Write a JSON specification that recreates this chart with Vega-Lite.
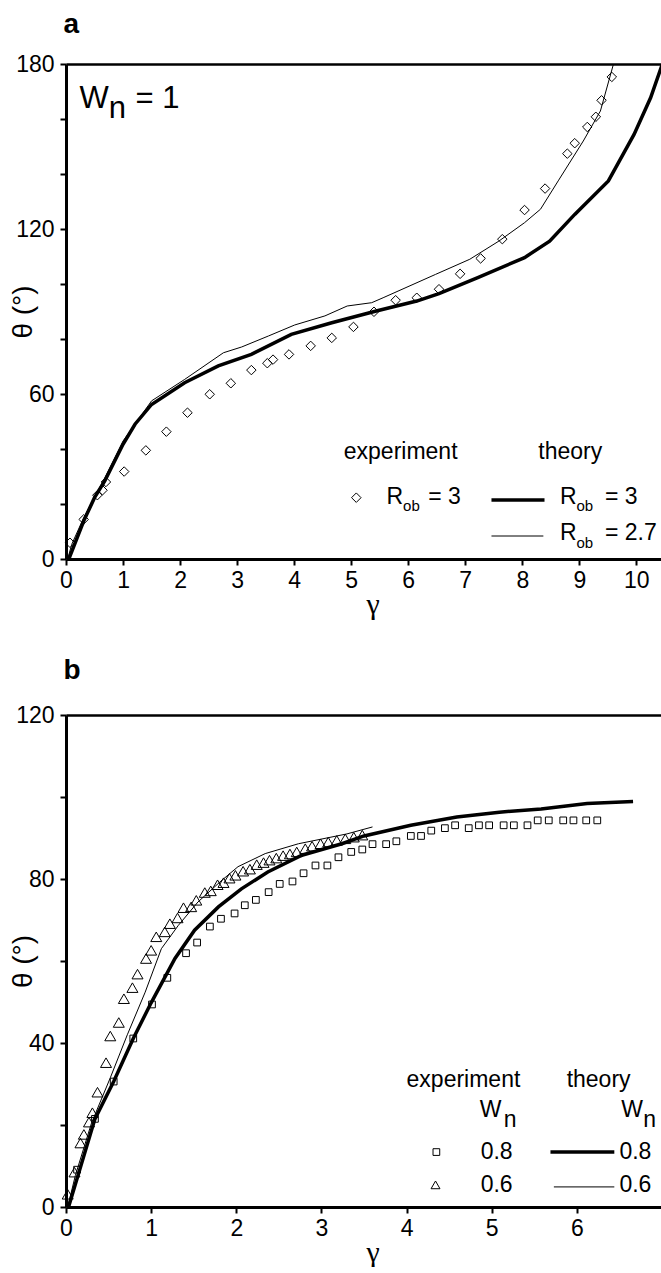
{
  "$schema": "https://vega.github.io/schema/vega-lite/v6.json",
  "padding": {"left": 9, "top": 10, "right": 0, "bottom": 0},
  "background": "white",
  "spacing": 37,
  "config": {
    "view": {"stroke": null},
    "font": "Liberation Sans",
    "text": {"font": "Liberation Sans", "color": "black"},
    "axis": {"domainColor": "black", "tickColor": "black", "labelColor": "black", "titleColor": "black", "grid": false, "labelFont": "Liberation Sans", "labelFontSize": 23, "domainWidth": 3, "tickWidth": 2, "tickSize": 6}
  },
  "datasets": {
    "a_exp": [
      {"gamma": 0.07, "theta": 5.9}, {"gamma": 0.31, "theta": 14.4}, {"gamma": 0.55, "theta": 23.2}, {"gamma": 0.64, "theta": 25.0},
      {"gamma": 0.70, "theta": 28.0}, {"gamma": 1.02, "theta": 31.8}, {"gamma": 1.40, "theta": 39.5}, {"gamma": 1.76, "theta": 46.3},
      {"gamma": 2.13, "theta": 53.2}, {"gamma": 2.52, "theta": 59.9}, {"gamma": 2.89, "theta": 63.9}, {"gamma": 3.25, "theta": 68.7},
      {"gamma": 3.53, "theta": 71.2}, {"gamma": 3.63, "theta": 72.5}, {"gamma": 3.91, "theta": 74.4}, {"gamma": 4.29, "theta": 77.5},
      {"gamma": 4.66, "theta": 80.4}, {"gamma": 5.04, "theta": 84.4}, {"gamma": 5.40, "theta": 89.9}, {"gamma": 5.78, "theta": 94.1},
      {"gamma": 6.15, "theta": 95.0}, {"gamma": 6.54, "theta": 98.1}, {"gamma": 6.91, "theta": 103.7}, {"gamma": 7.27, "theta": 109.3},
      {"gamma": 7.65, "theta": 116.3}, {"gamma": 8.04, "theta": 126.9}, {"gamma": 8.40, "theta": 134.7}, {"gamma": 8.79, "theta": 147.4},
      {"gamma": 8.92, "theta": 151.2}, {"gamma": 9.14, "theta": 157.1}, {"gamma": 9.29, "theta": 160.8}, {"gamma": 9.39, "theta": 166.8},
      {"gamma": 9.57, "theta": 175.3}
    ],
    "a_theory": [
      {"R": "3", "gamma": 0.05, "theta": 0}, {"R": "3", "gamma": 0.31, "theta": 13.8}, {"R": "3", "gamma": 0.50, "theta": 22.3},
      {"R": "3", "gamma": 0.68, "theta": 28.4}, {"R": "3", "gamma": 1.00, "theta": 41.7}, {"R": "3", "gamma": 1.21, "theta": 49.0},
      {"R": "3", "gamma": 1.50, "theta": 56.2}, {"R": "3", "gamma": 2.08, "theta": 64.1}, {"R": "3", "gamma": 2.67, "theta": 70.2},
      {"R": "3", "gamma": 3.25, "theta": 74.4}, {"R": "3", "gamma": 3.95, "theta": 81.7}, {"R": "3", "gamma": 4.66, "theta": 85.9},
      {"R": "3", "gamma": 5.44, "theta": 90.2}, {"R": "3", "gamma": 6.15, "theta": 93.8}, {"R": "3", "gamma": 6.54, "theta": 96.5},
      {"R": "3", "gamma": 7.22, "theta": 102.3}, {"R": "3", "gamma": 8.04, "theta": 109.6}, {"R": "3", "gamma": 8.48, "theta": 115.6},
      {"R": "3", "gamma": 8.92, "theta": 125.3}, {"R": "3", "gamma": 9.51, "theta": 137.5}, {"R": "3", "gamma": 9.96, "theta": 154.4},
      {"R": "3", "gamma": 10.25, "theta": 167.7}, {"R": "3", "gamma": 10.46, "theta": 180.2},
      {"R": "2.7", "gamma": 0.03, "theta": 0}, {"R": "2.7", "gamma": 0.10, "theta": 5.3}, {"R": "2.7", "gamma": 0.31, "theta": 15.0},
      {"R": "2.7", "gamma": 0.68, "theta": 29.5}, {"R": "2.7", "gamma": 1.00, "theta": 42.9}, {"R": "2.7", "gamma": 1.50, "theta": 57.5},
      {"R": "2.7", "gamma": 2.08, "theta": 65.3}, {"R": "2.7", "gamma": 2.76, "theta": 75.0}, {"R": "2.7", "gamma": 3.08, "theta": 77.1},
      {"R": "2.7", "gamma": 3.55, "theta": 81.1}, {"R": "2.7", "gamma": 4.01, "theta": 85.1}, {"R": "2.7", "gamma": 4.54, "theta": 88.4},
      {"R": "2.7", "gamma": 4.93, "theta": 92.0}, {"R": "2.7", "gamma": 5.36, "theta": 93.2}, {"R": "2.7", "gamma": 5.56, "theta": 95.0},
      {"R": "2.7", "gamma": 6.48, "theta": 103.5}, {"R": "2.7", "gamma": 7.08, "theta": 109.0}, {"R": "2.7", "gamma": 7.59, "theta": 115.6},
      {"R": "2.7", "gamma": 8.04, "theta": 122.3}, {"R": "2.7", "gamma": 8.32, "theta": 127.2}, {"R": "2.7", "gamma": 8.63, "theta": 137.5},
      {"R": "2.7", "gamma": 9.07, "theta": 152.0}, {"R": "2.7", "gamma": 9.37, "theta": 162.9}, {"R": "2.7", "gamma": 9.59, "theta": 179.3},
      {"R": "2.7", "gamma": 9.60, "theta": 180}
    ],
    "b_exp": [
      {"Wn": "0.8", "gamma": 0.13, "theta": 9.1}, {"Wn": "0.8", "gamma": 0.34, "theta": 21.5}, {"Wn": "0.8", "gamma": 0.56, "theta": 30.6},
      {"Wn": "0.8", "gamma": 0.79, "theta": 41.1}, {"Wn": "0.8", "gamma": 1.01, "theta": 49.4}, {"Wn": "0.8", "gamma": 1.19, "theta": 55.9},
      {"Wn": "0.8", "gamma": 1.41, "theta": 61.9}, {"Wn": "0.8", "gamma": 1.54, "theta": 64.5}, {"Wn": "0.8", "gamma": 1.69, "theta": 68.4},
      {"Wn": "0.8", "gamma": 1.82, "theta": 70.3}, {"Wn": "0.8", "gamma": 1.98, "theta": 71.6}, {"Wn": "0.8", "gamma": 2.10, "theta": 73.6},
      {"Wn": "0.8", "gamma": 2.23, "theta": 74.9}, {"Wn": "0.8", "gamma": 2.38, "theta": 76.8}, {"Wn": "0.8", "gamma": 2.51, "theta": 78.8},
      {"Wn": "0.8", "gamma": 2.66, "theta": 79.4}, {"Wn": "0.8", "gamma": 2.79, "theta": 81.4}, {"Wn": "0.8", "gamma": 2.93, "theta": 83.3},
      {"Wn": "0.8", "gamma": 3.07, "theta": 83.3}, {"Wn": "0.8", "gamma": 3.20, "theta": 85.3}, {"Wn": "0.8", "gamma": 3.35, "theta": 86.6},
      {"Wn": "0.8", "gamma": 3.48, "theta": 87.2}, {"Wn": "0.8", "gamma": 3.60, "theta": 88.5}, {"Wn": "0.8", "gamma": 3.76, "theta": 88.5},
      {"Wn": "0.8", "gamma": 3.88, "theta": 89.2}, {"Wn": "0.8", "gamma": 4.05, "theta": 90.5}, {"Wn": "0.8", "gamma": 4.17, "theta": 90.5},
      {"Wn": "0.8", "gamma": 4.29, "theta": 91.8}, {"Wn": "0.8", "gamma": 4.45, "theta": 92.4}, {"Wn": "0.8", "gamma": 4.57, "theta": 93.1},
      {"Wn": "0.8", "gamma": 4.73, "theta": 92.4}, {"Wn": "0.8", "gamma": 4.85, "theta": 93.1}, {"Wn": "0.8", "gamma": 4.97, "theta": 93.1},
      {"Wn": "0.8", "gamma": 5.14, "theta": 93.1}, {"Wn": "0.8", "gamma": 5.26, "theta": 93.1}, {"Wn": "0.8", "gamma": 5.42, "theta": 93.1},
      {"Wn": "0.8", "gamma": 5.54, "theta": 94.3}, {"Wn": "0.8", "gamma": 5.67, "theta": 94.3}, {"Wn": "0.8", "gamma": 5.84, "theta": 94.3},
      {"Wn": "0.8", "gamma": 5.96, "theta": 94.3}, {"Wn": "0.8", "gamma": 6.11, "theta": 94.3}, {"Wn": "0.8", "gamma": 6.24, "theta": 94.3},
      {"Wn": "0.6", "gamma": 0.02, "theta": 3.1}, {"Wn": "0.6", "gamma": 0.10, "theta": 8.5}, {"Wn": "0.6", "gamma": 0.17, "theta": 15.6},
      {"Wn": "0.6", "gamma": 0.21, "theta": 17.7}, {"Wn": "0.6", "gamma": 0.27, "theta": 20.7}, {"Wn": "0.6", "gamma": 0.31, "theta": 23.0},
      {"Wn": "0.6", "gamma": 0.37, "theta": 28.0}, {"Wn": "0.6", "gamma": 0.47, "theta": 35.2}, {"Wn": "0.6", "gamma": 0.52, "theta": 41.7},
      {"Wn": "0.6", "gamma": 0.62, "theta": 45.0}, {"Wn": "0.6", "gamma": 0.68, "theta": 50.8}, {"Wn": "0.6", "gamma": 0.78, "theta": 53.5},
      {"Wn": "0.6", "gamma": 0.84, "theta": 56.8}, {"Wn": "0.6", "gamma": 0.94, "theta": 60.6}, {"Wn": "0.6", "gamma": 1.00, "theta": 62.6},
      {"Wn": "0.6", "gamma": 1.06, "theta": 65.9}, {"Wn": "0.6", "gamma": 1.16, "theta": 67.1}, {"Wn": "0.6", "gamma": 1.22, "theta": 69.1},
      {"Wn": "0.6", "gamma": 1.31, "theta": 70.5}, {"Wn": "0.6", "gamma": 1.38, "theta": 73.0}, {"Wn": "0.6", "gamma": 1.47, "theta": 73.2},
      {"Wn": "0.6", "gamma": 1.53, "theta": 74.8}, {"Wn": "0.6", "gamma": 1.63, "theta": 76.7}, {"Wn": "0.6", "gamma": 1.70, "theta": 77.1},
      {"Wn": "0.6", "gamma": 1.78, "theta": 78.6}, {"Wn": "0.6", "gamma": 1.85, "theta": 79.1}, {"Wn": "0.6", "gamma": 1.92, "theta": 80.2},
      {"Wn": "0.6", "gamma": 1.99, "theta": 80.9}, {"Wn": "0.6", "gamma": 2.08, "theta": 81.9}, {"Wn": "0.6", "gamma": 2.16, "theta": 82.4},
      {"Wn": "0.6", "gamma": 2.24, "theta": 83.5}, {"Wn": "0.6", "gamma": 2.32, "theta": 84.0}, {"Wn": "0.6", "gamma": 2.39, "theta": 84.6},
      {"Wn": "0.6", "gamma": 2.47, "theta": 85.1}, {"Wn": "0.6", "gamma": 2.55, "theta": 85.7}, {"Wn": "0.6", "gamma": 2.63, "theta": 86.1},
      {"Wn": "0.6", "gamma": 2.71, "theta": 86.6}, {"Wn": "0.6", "gamma": 2.81, "theta": 87.4}, {"Wn": "0.6", "gamma": 2.89, "theta": 88.0},
      {"Wn": "0.6", "gamma": 2.99, "theta": 88.6}, {"Wn": "0.6", "gamma": 3.08, "theta": 89.0}, {"Wn": "0.6", "gamma": 3.18, "theta": 89.4},
      {"Wn": "0.6", "gamma": 3.28, "theta": 89.8}, {"Wn": "0.6", "gamma": 3.38, "theta": 90.2}, {"Wn": "0.6", "gamma": 3.48, "theta": 90.7}
    ],
    "b_theory": [
      {"Wn": "0.8", "gamma": 0.03, "theta": 0}, {"Wn": "0.8", "gamma": 0.34, "theta": 21.5}, {"Wn": "0.8", "gamma": 0.56, "theta": 30.6},
      {"Wn": "0.8", "gamma": 0.79, "theta": 41.1}, {"Wn": "0.8", "gamma": 1.00, "theta": 49.8}, {"Wn": "0.8", "gamma": 1.28, "theta": 60.6},
      {"Wn": "0.8", "gamma": 1.51, "theta": 67.5}, {"Wn": "0.8", "gamma": 1.79, "theta": 73.2}, {"Wn": "0.8", "gamma": 2.06, "theta": 77.6},
      {"Wn": "0.8", "gamma": 2.37, "theta": 81.7}, {"Wn": "0.8", "gamma": 2.77, "theta": 85.8}, {"Wn": "0.8", "gamma": 3.24, "theta": 88.6},
      {"Wn": "0.8", "gamma": 3.50, "theta": 90.5}, {"Wn": "0.8", "gamma": 4.05, "theta": 93.1}, {"Wn": "0.8", "gamma": 4.59, "theta": 95.1},
      {"Wn": "0.8", "gamma": 5.09, "theta": 96.3}, {"Wn": "0.8", "gamma": 5.58, "theta": 97.1}, {"Wn": "0.8", "gamma": 6.12, "theta": 98.4},
      {"Wn": "0.8", "gamma": 6.66, "theta": 98.9},
      {"Wn": "0.6", "gamma": 0.02, "theta": 0}, {"Wn": "0.6", "gamma": 0.11, "theta": 7.7}, {"Wn": "0.6", "gamma": 0.30, "theta": 20.5},
      {"Wn": "0.6", "gamma": 0.52, "theta": 31.5}, {"Wn": "0.6", "gamma": 0.72, "theta": 42.0}, {"Wn": "0.6", "gamma": 0.93, "theta": 52.4},
      {"Wn": "0.6", "gamma": 1.12, "theta": 63.0}, {"Wn": "0.6", "gamma": 1.32, "theta": 68.7}, {"Wn": "0.6", "gamma": 1.55, "theta": 74.4},
      {"Wn": "0.6", "gamma": 1.82, "theta": 79.5}, {"Wn": "0.6", "gamma": 2.02, "theta": 83.0}, {"Wn": "0.6", "gamma": 2.34, "theta": 86.2},
      {"Wn": "0.6", "gamma": 2.73, "theta": 88.6}, {"Wn": "0.6", "gamma": 3.30, "theta": 91.0}, {"Wn": "0.6", "gamma": 3.60, "theta": 92.7}
    ]
  },
  "vconcat": [
    {
      "width": 596,
      "height": 495,
      "layer": [
        {
          "data": {"name": "a_theory"},
          "transform": [{"filter": "datum.R === '3'"}],
          "mark": {"type": "line", "color": "black", "strokeWidth": 3.5, "clip": true},
          "encoding": {
            "x": {"field": "gamma", "type": "quantitative", "scale": {"domain": [0, 10.45], "nice": false, "zero": false},
              "axis": {"orient": "bottom", "values": [0, 1, 2, 3, 4, 5, 6, 7, 8, 9, 10], "title": "γ", "titleFont": "Liberation Serif", "titleFontSize": 30, "titleFontWeight": "normal", "titleX": 306.5, "titleY": 54, "titleBaseline": "alphabetic", "labelPadding": 4, "labelFlush": false, "labelOverlap": false}},
            "y": {"field": "theta", "type": "quantitative", "scale": {"domain": [0, 180], "nice": false},
              "axis": {"orient": "left", "values": [0, 20, 40, 60, 80, 100, 120, 140, 160, 180], "labelExpr": "datum.value % 60 === 0 ? datum.label : ''", "title": "θ (°)", "titleFont": "Liberation Sans", "titleFontSize": 28, "titleFontWeight": "normal", "titleX": -28.5, "titleBaseline": "bottom", "labelPadding": 6}}
          }
        },
        {
          "data": {"name": "a_theory"},
          "transform": [{"filter": "datum.R === '2.7'"}],
          "mark": {"type": "line", "color": "black", "strokeWidth": 1, "clip": true},
          "encoding": {
            "x": {"field": "gamma", "type": "quantitative", "axis": {"orient": "top", "labels": false, "ticks": false, "title": null, "domainWidth": 2.5, "minExtent": 0, "maxExtent": 0}},
            "y": {"field": "theta", "type": "quantitative", "axis": {"orient": "right", "labels": false, "ticks": false, "domain": false, "title": null, "minExtent": 0, "maxExtent": 0}}
          }
        },
        {
          "data": {"name": "a_exp"},
          "mark": {"type": "point", "shape": "diamond", "size": 90, "filled": false, "stroke": "black", "strokeWidth": 1, "opacity": 1},
          "encoding": {
            "x": {"field": "gamma", "type": "quantitative", "axis": null},
            "y": {"field": "theta", "type": "quantitative", "axis": null}
          }
        },
        {"data": {"values": [{}]}, "mark": {"type": "text", "text": "a", "align": "left", "baseline": "alphabetic", "fontSize": 28, "fontWeight": "bold"}, "encoding": {"x": {"datum": -0.045, "type": "quantitative", "axis": null}, "y": {"datum": 191.3, "type": "quantitative", "axis": null}}},
        {"data": {"values": [{}]}, "mark": {"type": "text", "text": "W", "align": "left", "baseline": "alphabetic", "fontSize": 31}, "encoding": {"x": {"datum": 0.235, "type": "quantitative", "axis": null}, "y": {"datum": 164, "type": "quantitative", "axis": null}}},
        {"data": {"values": [{}]}, "mark": {"type": "text", "text": "n", "align": "left", "baseline": "alphabetic", "fontSize": 31}, "encoding": {"x": {"datum": 0.75, "type": "quantitative", "axis": null}, "y": {"datum": 160.5, "type": "quantitative", "axis": null}}},
        {"data": {"values": [{}]}, "mark": {"type": "text", "text": "= 1", "align": "left", "baseline": "alphabetic", "fontSize": 31}, "encoding": {"x": {"datum": 1.22, "type": "quantitative", "axis": null}, "y": {"datum": 164, "type": "quantitative", "axis": null}}},
        {"data": {"values": [{}]}, "mark": {"type": "text", "text": "experiment", "align": "left", "baseline": "alphabetic", "fontSize": 23}, "encoding": {"x": {"datum": 4.87, "type": "quantitative", "axis": null}, "y": {"datum": 36.4, "type": "quantitative", "axis": null}}},
        {"data": {"values": [{}]}, "mark": {"type": "text", "text": "theory", "align": "left", "baseline": "alphabetic", "fontSize": 23}, "encoding": {"x": {"datum": 8.28, "type": "quantitative", "axis": null}, "y": {"datum": 36.4, "type": "quantitative", "axis": null}}},
        {"data": {"values": [{}]}, "mark": {"type": "point", "shape": "diamond", "size": 90, "filled": false, "stroke": "black", "strokeWidth": 1, "opacity": 1}, "encoding": {"x": {"datum": 5.09, "type": "quantitative", "axis": null}, "y": {"datum": 22.3, "type": "quantitative", "axis": null}}},
        {"data": {"values": [{}]}, "mark": {"type": "text", "text": "R", "align": "left", "baseline": "alphabetic", "fontSize": 23}, "encoding": {"x": {"datum": 5.62, "type": "quantitative", "axis": null}, "y": {"datum": 20.1, "type": "quantitative", "axis": null}}},
        {"data": {"values": [{}]}, "mark": {"type": "text", "text": "ob", "align": "left", "baseline": "alphabetic", "fontSize": 15}, "encoding": {"x": {"datum": 5.91, "type": "quantitative", "axis": null}, "y": {"datum": 17.45, "type": "quantitative", "axis": null}}},
        {"data": {"values": [{}]}, "mark": {"type": "text", "text": "= 3", "align": "left", "baseline": "alphabetic", "fontSize": 23}, "encoding": {"x": {"datum": 6.35, "type": "quantitative", "axis": null}, "y": {"datum": 20.1, "type": "quantitative", "axis": null}}},
        {"data": {"values": [{}]}, "mark": {"type": "rule", "color": "black", "strokeWidth": 3.5}, "encoding": {"x": {"datum": 7.46, "type": "quantitative", "axis": null}, "x2": {"datum": 8.39}, "y": {"datum": 21.45, "type": "quantitative", "axis": null}}},
        {"data": {"values": [{}]}, "mark": {"type": "text", "text": "R", "align": "left", "baseline": "alphabetic", "fontSize": 23}, "encoding": {"x": {"datum": 8.66, "type": "quantitative", "axis": null}, "y": {"datum": 20.1, "type": "quantitative", "axis": null}}},
        {"data": {"values": [{}]}, "mark": {"type": "text", "text": "ob", "align": "left", "baseline": "alphabetic", "fontSize": 15}, "encoding": {"x": {"datum": 8.95, "type": "quantitative", "axis": null}, "y": {"datum": 17.45, "type": "quantitative", "axis": null}}},
        {"data": {"values": [{}]}, "mark": {"type": "text", "text": "= 3", "align": "left", "baseline": "alphabetic", "fontSize": 23}, "encoding": {"x": {"datum": 9.45, "type": "quantitative", "axis": null}, "y": {"datum": 20.1, "type": "quantitative", "axis": null}}},
        {"data": {"values": [{}]}, "mark": {"type": "rule", "color": "black", "strokeWidth": 1}, "encoding": {"x": {"datum": 7.46, "type": "quantitative", "axis": null}, "x2": {"datum": 8.37}, "y": {"datum": 8.36, "type": "quantitative", "axis": null}}},
        {"data": {"values": [{}]}, "mark": {"type": "text", "text": "R", "align": "left", "baseline": "alphabetic", "fontSize": 23}, "encoding": {"x": {"datum": 8.66, "type": "quantitative", "axis": null}, "y": {"datum": 6.8, "type": "quantitative", "axis": null}}},
        {"data": {"values": [{}]}, "mark": {"type": "text", "text": "ob", "align": "left", "baseline": "alphabetic", "fontSize": 15}, "encoding": {"x": {"datum": 8.95, "type": "quantitative", "axis": null}, "y": {"datum": 4.1, "type": "quantitative", "axis": null}}},
        {"data": {"values": [{}]}, "mark": {"type": "text", "text": "= 2.7", "align": "left", "baseline": "alphabetic", "fontSize": 23}, "encoding": {"x": {"datum": 9.45, "type": "quantitative", "axis": null}, "y": {"datum": 6.8, "type": "quantitative", "axis": null}}}
      ]
    },
    {
      "width": 596,
      "height": 492,
      "layer": [
        {
          "data": {"name": "b_theory"},
          "transform": [{"filter": "datum.Wn === '0.8'"}],
          "mark": {"type": "line", "color": "black", "strokeWidth": 3.5, "clip": true},
          "encoding": {
            "x": {"field": "gamma", "type": "quantitative", "scale": {"domain": [0, 7], "nice": false, "zero": false},
              "axis": {"orient": "bottom", "values": [0, 1, 2, 3, 4, 5, 6], "title": "γ", "titleFont": "Liberation Serif", "titleFontSize": 30, "titleFontWeight": "normal", "titleX": 306.5, "titleY": 54, "titleBaseline": "alphabetic", "labelPadding": 4, "labelFlush": false, "labelOverlap": false}},
            "y": {"field": "theta", "type": "quantitative", "scale": {"domain": [0, 120], "nice": false},
              "axis": {"orient": "left", "values": [0, 20, 40, 60, 80, 100, 120], "labelExpr": "datum.value % 40 === 0 ? datum.label : ''", "title": "θ (°)", "titleFont": "Liberation Sans", "titleFontSize": 28, "titleFontWeight": "normal", "titleX": -28.5, "titleBaseline": "bottom", "labelPadding": 6}}
          }
        },
        {
          "data": {"name": "b_theory"},
          "transform": [{"filter": "datum.Wn === '0.6'"}],
          "mark": {"type": "line", "color": "black", "strokeWidth": 1, "clip": true},
          "encoding": {
            "x": {"field": "gamma", "type": "quantitative", "axis": {"orient": "top", "labels": false, "ticks": false, "title": null, "domainWidth": 2.5, "minExtent": 0, "maxExtent": 0}},
            "y": {"field": "theta", "type": "quantitative", "axis": {"orient": "right", "labels": false, "ticks": false, "domain": false, "title": null, "minExtent": 0, "maxExtent": 0}}
          }
        },
        {
          "data": {"name": "b_exp"},
          "transform": [{"filter": "datum.Wn === '0.8'"}],
          "mark": {"type": "point", "shape": "square", "size": 45, "filled": false, "stroke": "black", "strokeWidth": 1, "opacity": 1},
          "encoding": {
            "x": {"field": "gamma", "type": "quantitative", "axis": null},
            "y": {"field": "theta", "type": "quantitative", "axis": null}
          }
        },
        {
          "data": {"name": "b_exp"},
          "transform": [{"filter": "datum.Wn === '0.6'"}],
          "mark": {"type": "point", "shape": "triangle-up", "size": 121, "filled": false, "stroke": "black", "strokeWidth": 1, "opacity": 1},
          "encoding": {
            "x": {"field": "gamma", "type": "quantitative", "axis": null},
            "y": {"field": "theta", "type": "quantitative", "axis": null}
          }
        },
        {"data": {"values": [{}]}, "mark": {"type": "text", "text": "b", "align": "left", "baseline": "alphabetic", "fontSize": 28, "fontWeight": "bold"}, "encoding": {"x": {"datum": -0.03, "type": "quantitative", "axis": null}, "y": {"datum": 128.8, "type": "quantitative", "axis": null}}},
        {"data": {"values": [{}]}, "mark": {"type": "text", "text": "experiment", "align": "left", "baseline": "alphabetic", "fontSize": 23}, "encoding": {"x": {"datum": 4.0, "type": "quantitative", "axis": null}, "y": {"datum": 29.3, "type": "quantitative", "axis": null}}},
        {"data": {"values": [{}]}, "mark": {"type": "text", "text": "theory", "align": "left", "baseline": "alphabetic", "fontSize": 23}, "encoding": {"x": {"datum": 5.88, "type": "quantitative", "axis": null}, "y": {"datum": 29.3, "type": "quantitative", "axis": null}}},
        {"data": {"values": [{}]}, "mark": {"type": "text", "text": "W", "align": "left", "baseline": "alphabetic", "fontSize": 23}, "encoding": {"x": {"datum": 4.86, "type": "quantitative", "axis": null}, "y": {"datum": 22.0, "type": "quantitative", "axis": null}}},
        {"data": {"values": [{}]}, "mark": {"type": "text", "text": "n", "align": "left", "baseline": "alphabetic", "fontSize": 23}, "encoding": {"x": {"datum": 5.14, "type": "quantitative", "axis": null}, "y": {"datum": 19.5, "type": "quantitative", "axis": null}}},
        {"data": {"values": [{}]}, "mark": {"type": "text", "text": "W", "align": "left", "baseline": "alphabetic", "fontSize": 23}, "encoding": {"x": {"datum": 6.52, "type": "quantitative", "axis": null}, "y": {"datum": 22.0, "type": "quantitative", "axis": null}}},
        {"data": {"values": [{}]}, "mark": {"type": "text", "text": "n", "align": "left", "baseline": "alphabetic", "fontSize": 23}, "encoding": {"x": {"datum": 6.78, "type": "quantitative", "axis": null}, "y": {"datum": 19.5, "type": "quantitative", "axis": null}}},
        {"data": {"values": [{}]}, "mark": {"type": "point", "shape": "square", "size": 45, "filled": false, "stroke": "black", "strokeWidth": 1, "opacity": 1}, "encoding": {"x": {"datum": 4.35, "type": "quantitative", "axis": null}, "y": {"datum": 13.4, "type": "quantitative", "axis": null}}},
        {"data": {"values": [{}]}, "mark": {"type": "text", "text": "0.8", "align": "left", "baseline": "alphabetic", "fontSize": 23}, "encoding": {"x": {"datum": 4.87, "type": "quantitative", "axis": null}, "y": {"datum": 11.7, "type": "quantitative", "axis": null}}},
        {"data": {"values": [{}]}, "mark": {"type": "rule", "color": "black", "strokeWidth": 3.5}, "encoding": {"x": {"datum": 5.69, "type": "quantitative", "axis": null}, "x2": {"datum": 6.44}, "y": {"datum": 13.4, "type": "quantitative", "axis": null}}},
        {"data": {"values": [{}]}, "mark": {"type": "text", "text": "0.8", "align": "left", "baseline": "alphabetic", "fontSize": 23}, "encoding": {"x": {"datum": 6.5, "type": "quantitative", "axis": null}, "y": {"datum": 11.7, "type": "quantitative", "axis": null}}},
        {"data": {"values": [{}]}, "mark": {"type": "point", "shape": "triangle-up", "size": 80, "filled": false, "stroke": "black", "strokeWidth": 1, "opacity": 1}, "encoding": {"x": {"datum": 4.34, "type": "quantitative", "axis": null}, "y": {"datum": 5.4, "type": "quantitative", "axis": null}}},
        {"data": {"values": [{}]}, "mark": {"type": "text", "text": "0.6", "align": "left", "baseline": "alphabetic", "fontSize": 23}, "encoding": {"x": {"datum": 4.87, "type": "quantitative", "axis": null}, "y": {"datum": 3.66, "type": "quantitative", "axis": null}}},
        {"data": {"values": [{}]}, "mark": {"type": "rule", "color": "black", "strokeWidth": 1}, "encoding": {"x": {"datum": 5.73, "type": "quantitative", "axis": null}, "x2": {"datum": 6.44}, "y": {"datum": 4.9, "type": "quantitative", "axis": null}}},
        {"data": {"values": [{}]}, "mark": {"type": "text", "text": "0.6", "align": "left", "baseline": "alphabetic", "fontSize": 23}, "encoding": {"x": {"datum": 6.5, "type": "quantitative", "axis": null}, "y": {"datum": 3.66, "type": "quantitative", "axis": null}}}
      ]
    }
  ]
}
